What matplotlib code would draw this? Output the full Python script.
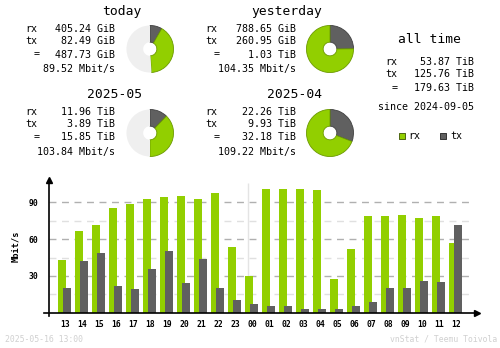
import matplotlib

matplotlib.use("Agg")
import matplotlib.pyplot as plt

# summary values (as printed by vnstati)
today_rx, today_tx = 405.24, 82.49
today_total, today_rate = 487.73, 89.52
today_fill = 0.49
yday_rx, yday_tx = 788.65, 260.95
yday_total, yday_rate = 1.03, 104.35
month_rx, month_tx = 11.96, 3.89
month_total, month_rate = 15.85, 103.84
month_fill = 0.50
prev_rx, prev_tx = 22.26, 9.93
prev_total, prev_rate = 32.18, 109.22
all_rx, all_tx, all_total = 53.87, 125.76, 179.63

# hourly averages, Mbit/s
hours = ["13", "14", "15", "16", "17", "18", "19", "20", "21", "22", "23", "00",
         "01", "02", "03", "04", "05", "06", "07", "08", "09", "10", "11", "12"]
rx_rate = [42.7, 66.2, 71.1, 85.7, 88.9, 93.0, 94.6, 95.4, 93.0, 97.8, 53.2, 29.7,
           100.8, 100.8, 100.8, 100.0, 27.3, 51.6, 79.2, 79.2, 80.0, 77.6, 79.2, 56.5]
tx_rate = [20.0, 41.9, 48.4, 21.6, 19.2, 35.4, 50.0, 24.1, 43.5, 20.0, 10.3, 7.0,
           5.4, 5.4, 3.0, 3.0, 3.0, 5.4, 8.6, 20.0, 20.0, 25.7, 24.9, 71.1]

RX = "#92cf00"
TX = "#606060"
RXD = "#6b9900"
TXD = "#404040"
W, H = 500, 348
MONO = "DejaVu Sans Mono"

fig = plt.figure(figsize=(5.0, 3.48), dpi=100)
fig.patch.set_facecolor("white")

# overlay in pixel coordinates for the text block
ov = fig.add_axes([0, 0, 1, 1])
ov.set_xlim(0, W)
ov.set_ylim(H, 0)
ov.axis("off")


def txt(x, y, s, ha="left", size=7.2, color="black", **kw):
    ov.text(x, y, s, ha=ha, va="center", fontsize=size, family=MONO,
            color=color, **kw)


def block(x0, xr, y0, title, rx, tx, total, unit, tunit, rate):
    txt(xr + 27, y0 - 18, title, ha="right", size=9.4)
    txt(x0, y0, "rx")
    txt(xr, y0, f"{rx:.2f} {unit}", ha="right")
    txt(x0, y0 + 12, "tx")
    txt(xr, y0 + 12, f"{tx:.2f} {unit}", ha="right")
    txt(x0 + 9, y0 + 25.5, "=")
    txt(xr, y0 + 25.5, f"{total:.2f} {tunit}", ha="right")
    txt(xr, y0 + 40, f"{rate:.2f} Mbit/s", ha="right")


def pie(cx, cy, rx, tx, fill):
    r = 24
    pa = fig.add_axes([(cx - r) / W, 1 - (cy + r) / H, 2 * r / W, 2 * r / H])
    tot = rx + tx
    sizes = [tx / tot * fill, rx / tot * fill, 1 - fill]
    wedges, _ = pa.pie(sizes, colors=[TX, RX, "#efefef"], startangle=90,
                       counterclock=False, radius=1.0,
                       wedgeprops=dict(width=0.71, linewidth=0.6))
    wedges[0].set_edgecolor(TXD)
    wedges[1].set_edgecolor(RXD)
    wedges[2].set_edgecolor("none")
    pa.set_xlim(-1.02, 1.02)
    pa.set_ylim(-1.02, 1.02)
    pa.axis("off")


block(25, 115, 29, "today", today_rx, today_tx, today_total, "GiB", "GiB", today_rate)
block(205, 295.5, 29, "yesterday", yday_rx, yday_tx, yday_total, "GiB", "TiB", yday_rate)
block(25, 115, 112, "2025-05", month_rx, month_tx, month_total, "TiB", "TiB", month_rate)
block(205, 295.5, 112, "2025-04", prev_rx, prev_tx, prev_total, "TiB", "TiB", prev_rate)

pie(150, 49, today_rx, today_tx, today_fill)
pie(330, 49, yday_rx, yday_tx, 1.0)
pie(150, 133, month_rx, month_tx, month_fill)
pie(330, 133, prev_rx, prev_tx, 1.0)

# all time column
txt(429, 39.5, "all time", ha="center", size=9.4)
txt(385, 62, "rx")
txt(474, 62, f"{all_rx:.2f} TiB", ha="right")
txt(385, 74, "tx")
txt(474, 74, f"{all_tx:.2f} TiB", ha="right")
txt(391.5, 88, "=")
txt(474, 88, f"{all_total:.2f} TiB", ha="right")
txt(426, 107.5, "since 2024-09-05", ha="center")

ov.scatter([401.5], [136], s=22, marker="s", color=RX, edgecolors="#3a5200",
           linewidths=0.6)
txt(408, 136, "rx")
ov.scatter([443], [136], s=22, marker="s", color=TX, edgecolors="#202020",
           linewidths=0.6)
txt(450, 136, "tx")

# footer
txt(5, 339.5, "2025-05-16 13:00", size=5.9, color="#d0d0d0")
txt(497, 339.5, "vnStat / Teemu Toivola", ha="right", size=5.9, color="#d0d0d0")

# hourly bar chart
x0, x1 = 49, 476.7
y_top, y_base = 180, 312.7
ax = fig.add_axes([x0 / W, 1 - y_base / H, (x1 - x0) / W, (y_base - y_top) / H])
ax.set_facecolor("none")
ymax = (y_base - y_top) / 110.4 * 90
ax.set_xlim(-0.94, 24.22)
ax.set_ylim(0, ymax)
for s in ax.spines.values():
    s.set_visible(False)

idx = list(range(len(hours)))
ax.hlines([15, 45, 75], -0.94, 23.98, colors="#e0e0e0", linewidth=1,
          linestyles=(0, (5, 4)), zorder=1)
ax.hlines([30, 60, 90], -0.94, 23.98, colors="#b0b0b0", linewidth=1,
          linestyles=(0, (5, 4)), zorder=1)
ax.vlines([10.78], 0, 105.5, colors="#e4e4e4", linewidth=1, zorder=1)

ax.bar([i - 0.18 for i in idx], rx_rate, width=0.45, color=RX, zorder=2)
ax.bar([i + 0.12 for i in idx], tx_rate, width=0.45, color=TX, zorder=3)

# axes lines with arrow heads
ax.plot([0, 0], [-3.0, ymax], color="black", lw=1.2, clip_on=False, zorder=5,
        transform=ax.get_yaxis_transform())
ax.plot([-1.25, 24.22], [0, 0], color="black", lw=1.2, clip_on=False, zorder=5)
ax.plot([-0.94], [ymax], marker="^", color="black", ms=4, clip_on=False, zorder=6)
ax.plot([24.22], [0], marker=">", color="black", ms=4, clip_on=False, zorder=6)

ax.set_xticks(idx)
ax.set_xticklabels(hours, family=MONO, fontsize=5.8, fontweight="bold")
ax.set_yticks([30, 60, 90])
ax.set_yticklabels(["30", "60", "90"], family=MONO, fontsize=5.8,
                   fontweight="bold")
ax.tick_params(axis="both", length=0, pad=5)
ax.tick_params(axis="y", pad=8)
ax.set_ylabel("Mbit/s", family=MONO, fontsize=6.2, fontweight="bold",
              labelpad=6)

fig.savefig("out.png", dpi=100, facecolor="white")
